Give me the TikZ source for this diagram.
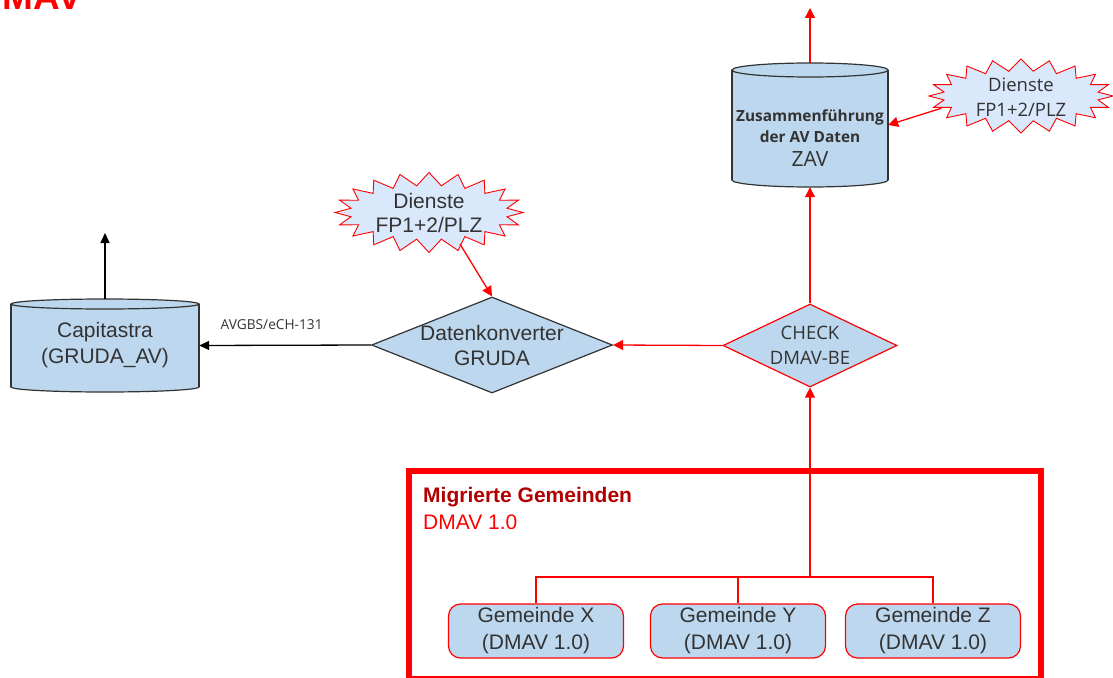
\documentclass[tikz,border=0pt]{standalone}
\usepackage{fontspec}
\setmainfont{Liberation Sans}
\newfontfamily\osf{Open Sans}
\usetikzlibrary{shapes.geometric,arrows.meta}
\definecolor{boxblue}{HTML}{BDD7EE}
\definecolor{starblue}{HTML}{DAE8FC}
\definecolor{txt}{HTML}{333333}
\definecolor{dred}{HTML}{B20000}
\definecolor{myred}{HTML}{FF0000}
\begin{document}
\begin{tikzpicture}[x=1pt,y=-1pt,
  redline/.style={draw=myred, line width=1.3pt},
  redarrow/.style={redline, -{Triangle[length=10pt,width=10pt]}},
  blkarrow/.style={draw=black, line width=1.3pt, -{Triangle[length=10pt,width=9pt]}},
  cylline/.style={draw=txt, line width=1.2pt},
  starline/.style={draw=myred, fill=starblue, line width=0.9pt},
  gem/.style={rectangle, rounded corners=12pt, draw=myred, fill=boxblue, line width=1.2pt,
    minimum width=175pt, minimum height=54pt, inner sep=0pt, align=center, text=txt,
    font=\fontsize{21}{27}\selectfont},
  dia/.style={diamond, fill=boxblue, line width=1.2pt, inner sep=0pt},
  plain/.style={inner sep=0pt, align=center, text=txt}
]
\useasboundingbox (0,0) rectangle (1113,677);

% title (cut off)
\node[anchor=base east, inner sep=0pt, text=myred, font=\fontsize{37}{40}\selectfont\bfseries] (title) at (82,10) {DMAV};

% ---- Capitastra cylinder
\filldraw[fill=boxblue, cylline] (105,387) ellipse [x radius=94pt, y radius=5pt];
\fill[boxblue] (11,304) rectangle (199,387);
\draw[cylline] (11,304) -- (11,387) (199,304) -- (199,387);
\filldraw[fill=boxblue, cylline] (105,304) ellipse [x radius=94pt, y radius=5pt];
\node[plain, minimum width=188pt, minimum height=93pt, font=\fontsize{21}{26}\selectfont] (cap) at (105,345.5) {Capitastra\\(GRUDA\_AV)};
\coordinate (capup) at (105,233);

% ---- ZAV cylinder
\filldraw[fill=boxblue, cylline] (810,180) ellipse [x radius=78pt, y radius=7pt];
\fill[boxblue] (732,70) rectangle (888,180);
\draw[cylline] (732,70) -- (732,180) (888,70) -- (888,180);
\filldraw[fill=boxblue, cylline] (810,70) ellipse [x radius=78pt, y radius=7pt];
\node[plain, minimum width=156pt, minimum height=124pt,
  label={[plain, yshift=-13pt, font=\osf\fontsize{15.4}{21}\selectfont\bfseries]center:{Zusammenführung\\der AV Daten\\[3pt]{\mdseries\fontsize{21}{24}\selectfont ZAV}}}] (zav) at (810,125) {};
\coordinate (zavup) at (810,8);

% ---- stars
\filldraw[starline] plot[samples at={0,...,39}, variable=\i]
  ({429+ifthenelse(mod(\i,2)==0,94,79)*cos(\i*9)},{212.5+ifthenelse(mod(\i,2)==0,40,27)*sin(\i*9)}) -- cycle;
\node[ellipse, plain, minimum width=172pt, minimum height=66pt, font=\fontsize{21}{24}\selectfont] (s1) at (429,213) {Dienste\\FP1+2/PLZ};

\filldraw[starline] plot[samples at={0,...,39}, variable=\i]
  ({1021+ifthenelse(mod(\i,2)==0,92,78)*cos(\i*9)},{96+ifthenelse(mod(\i,2)==0,37,25)*sin(\i*9)}) -- cycle;
\node[ellipse, plain, minimum width=170pt, minimum height=62pt, font=\osf\fontsize{18.5}{25}\selectfont] (s2) at (1021,97) {Dienste\\FP1+2/PLZ};

% ---- diamonds
\node[dia, draw=txt, minimum width=241pt, minimum height=96pt,
  label={[plain, font=\fontsize{21}{25}\selectfont]center:{Datenkonverter\\GRUDA}}] (dk) at (492,345) {};
\node[dia, draw=myred, minimum width=174pt, minimum height=83pt,
  label={[plain, font=\osf\fontsize{18.5}{25}\selectfont]center:{CHECK\\DMAV-BE}}] (chk) at (810,345.5) {};

% ---- frame
\draw[myred, line width=6pt] (409,471) rectangle (1041,679);
\node[anchor=west, inner sep=0pt, text=dred, font=\fontsize{21}{24}\selectfont\bfseries] (mig) at (423,497) {Migrierte Gemeinden};
\node[anchor=west, inner sep=0pt, text=myred, font=\fontsize{21}{24}\selectfont] (dm) at (423,522) {DMAV 1.0};

% ---- Gemeinden
\node[gem] (gx) at (536,631) {Gemeinde X\\(DMAV 1.0)};
\node[gem] (gy) at (738,631) {Gemeinde Y\\(DMAV 1.0)};
\node[gem] (gz) at (933,631) {Gemeinde Z\\(DMAV 1.0)};
\coordinate (bus) at (810,577);

% ---- connectors
\draw[redline] (gx.north) -- (gx.north |- bus) -- (gz.north |- bus) -- (gz.north);
\draw[redline] (gy.north) -- (gy.north |- bus);
\draw[redarrow] (bus) -- (chk.south);
\draw[redarrow] (chk.north) -- (zav.south);
\draw[redarrow] (zav.north) -- (zavup);
\draw[redarrow] (s2.188) -- (zav.east);
\draw[redarrow] (chk.west) -- (dk.east);
\draw[redarrow] (s1.-45) -- (dk.north);
\draw[blkarrow] (dk.west) -- node[pos=0.578, yshift=21pt, inner sep=0pt, text=txt, font=\osf\fontsize{13.7}{16}\selectfont] {AVGBS/eCH-131} (cap.east);
\draw[blkarrow] (cap.north) -- (capup);
\end{tikzpicture}
\end{document}
